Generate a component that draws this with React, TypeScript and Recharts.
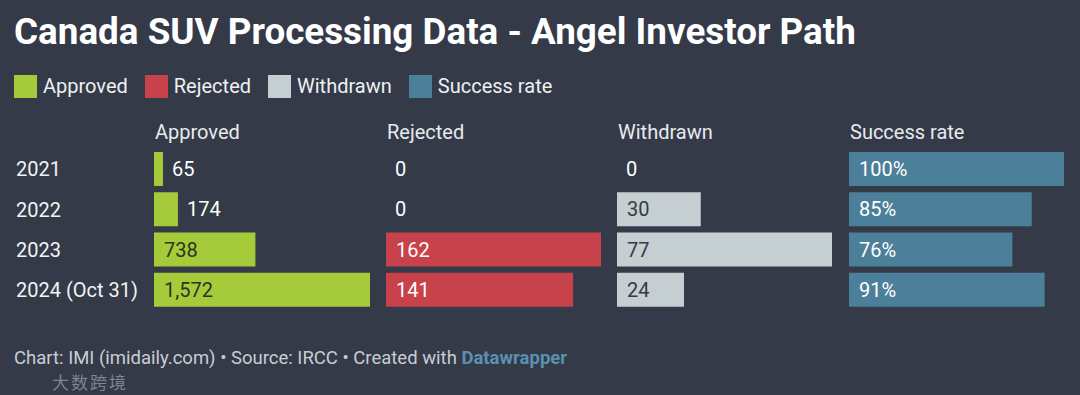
import React from "react";
import { BarChart, Bar, XAxis, YAxis } from "recharts";

// values
const years = ["2021", "2022", "2023", "2024 (Oct 31)"];
const approved = [65, 174, 738, 1572];
const rejected = [0, 0, 162, 141];
const withdrawn = [0, 30, 77, 24];
const successRate = [100, 85, 76, 91];

const seriesNames = ["Approved", "Rejected", "Withdrawn", "Success rate"];
const seriesColors = ["#a5cb3b", "#c8424b", "#c5ced1", "#4c7f99"];
const insideTextColors = ["#2c3322", "#ffffff", "#343a44", "#ffffff"];

const BG = "#343a48";
const FONT = "Roboto, 'Noto Sans', sans-serif";
const LEFTS = [154, 386, 617, 849];
const COL_W = 215;
const PLOT_TOP = 149;
const PLOT_H = 161;

const fmtNumber = (v: number) => v.toLocaleString("en-US");
const fmtPct = (v: number) => `${v}%`;

const columns = [
  { values: approved, fmt: fmtNumber },
  { values: rejected, fmt: fmtNumber },
  { values: withdrawn, fmt: fmtNumber },
  { values: successRate, fmt: fmtPct },
];

// bar + value label; label goes inside when it fits, otherwise right of the bar
const makeShape =
  (fmt: (v: number) => string, color: string, insideColor: string) =>
  (props: any) => {
    const { x, y, width, height, payload } = props;
    const v = Number(payload.value);
    const w = v > 0 ? Number(width) : 0;
    const text = fmt(v);
    const textW = text.length * 11;
    const inside = w > textW + 18;
    const tx = inside ? Number(x) + 10 : Number(x) + w + 9;
    return (
      <g>
        {w > 0 && (
          <rect x={x} y={y} width={w} height={height} fill={color} />
        )}
        <text
          x={tx}
          y={Number(y) + Number(height) / 2}
          dy="0.36em"
          fill={inside ? insideColor : "#ffffff"}
          fontSize={20}
          fontFamily={FONT}
        >
          {text}
        </text>
      </g>
    );
  };

const YearTick = (props: any) => {
  const { y, payload } = props;
  return (
    <text x={16} y={y} dy="0.36em" fill="#f2f3f4" fontSize={20} fontFamily={FONT}>
      {payload.value}
    </text>
  );
};

const App = () => {
  return (
    <div
      style={{
        position: "absolute",
        left: 0,
        top: 0,
        width: 1080,
        height: 395,
        background: BG,
        fontFamily: FONT,
        overflow: "hidden",
      }}
    >
      <div
        style={{
          position: "absolute",
          left: 14,
          top: 10,
          fontSize: 36.8,
          fontWeight: 700,
          color: "#ffffff",
          lineHeight: "44px",
          whiteSpace: "nowrap",
        }}
      >
        Canada SUV Processing Data - Angel Investor Path
      </div>

      {/* legend */}
      <div
        style={{
          position: "absolute",
          left: 14,
          top: 74,
          display: "flex",
          gap: 17,
          color: "#eef0f2",
          fontSize: 20,
          lineHeight: "24px",
        }}
      >
        {seriesNames.map((name, i) => (
          <div key={name} style={{ display: "flex", alignItems: "center" }}>
            <span
              style={{
                display: "inline-block",
                width: 23,
                height: 23,
                background: seriesColors[i],
                marginRight: 6,
              }}
            />
            {name}
          </div>
        ))}
      </div>

      {/* column headers */}
      {seriesNames.map((name, i) => (
        <div
          key={"h" + name}
          style={{
            position: "absolute",
            left: LEFTS[i] + 1,
            top: 120,
            color: "#e8eaed",
            fontSize: 20,
            lineHeight: "24px",
          }}
        >
          {name}
        </div>
      ))}

      {columns.map((col, i) => {
        const data = years.map((year, j) => ({ year, value: col.values[j] }));
        const first = i === 0;
        const yW = first ? LEFTS[0] : 0;
        return (
          <div
            key={"c" + i}
            style={{ position: "absolute", left: LEFTS[i] - yW, top: PLOT_TOP }}
          >
            <BarChart
              width={COL_W + yW + (first ? 1 : 0)}
              height={PLOT_H}
              data={data}
              layout="vertical"
              margin={{ top: 0, right: 0, bottom: 0, left: 0 }}
              barCategoryGap={3}
            >
              <XAxis type="number" hide domain={[0, Math.max(...col.values)]} />
              <YAxis
                type="category"
                dataKey="year"
                hide={!first}
                width={yW}
                axisLine={false}
                tickLine={false}
                tick={<YearTick />}
                interval={0}
              />
              <Bar
                dataKey="value"
                fill={seriesColors[i]}
                barSize={34}
                minPointSize={1}
                isAnimationActive={false}
                shape={makeShape(col.fmt, seriesColors[i], insideTextColors[i])}
              />
            </BarChart>
          </div>
        );
      })}

      {/* footer */}
      <div
        style={{
          position: "absolute",
          left: 14,
          top: 348,
          fontSize: 18.5,
          color: "#c9cdd3",
          lineHeight: "20px",
          whiteSpace: "nowrap",
        }}
      >
        Chart: IMI (imidaily.com) • Source: IRCC • Created with{" "}
        <span style={{ color: "#5c90b2", fontWeight: 700 }}>Datawrapper</span>
      </div>
      <div
        style={{
          position: "absolute",
          left: 52,
          top: 372,
          fontSize: 17,
          color: "rgba(205,208,214,0.5)",
          fontFamily: "'Noto Sans CJK SC', sans-serif",
          lineHeight: "20px",
          letterSpacing: 2,
        }}
      >
        大数跨境
      </div>
    </div>
  );
};

export default App;
